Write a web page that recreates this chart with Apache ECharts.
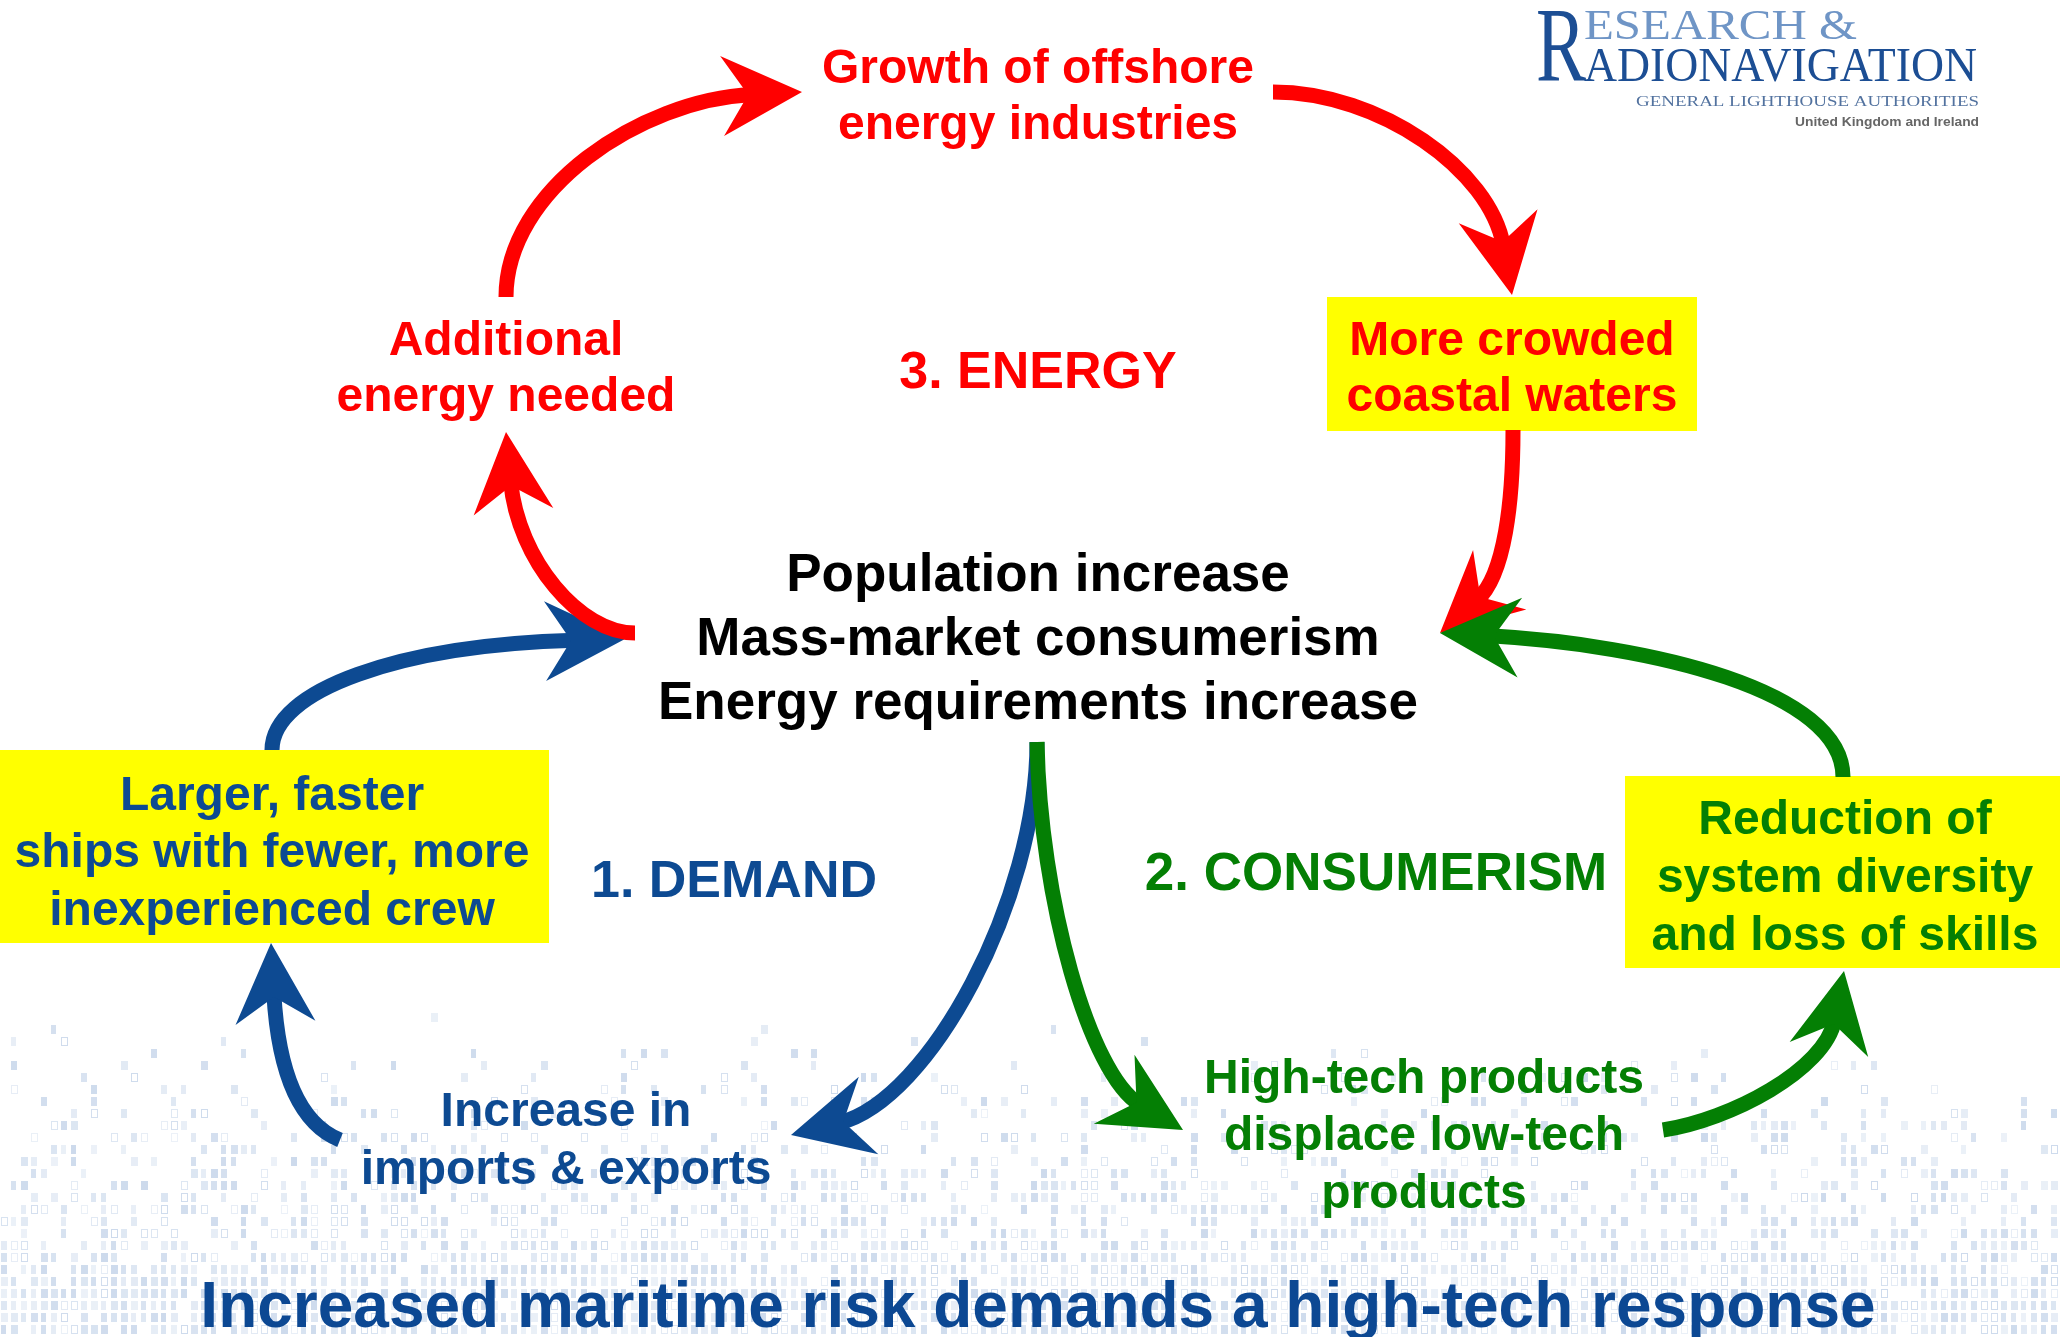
<!DOCTYPE html>
<html>
<head>
<meta charset="utf-8">
<title>Maritime risk cycle</title>
<script src="https://cdn.jsdelivr.net/npm/echarts@6/dist/echarts.min.js"></script>
<style>
    html, body { margin: 0; padding: 0; background: #fff; }
    #main { width: 2060px; height: 1337px; }
</style>
</head>
<body>
<div id="main"></div>
<script>
// 文字数据
var centreLines = ['Population increase', 'Mass-market consumerism', 'Energy requirements increase'];
var sectionNames = ['1. DEMAND', '2. CONSUMERISM', '3. ENERGY'];
var demandSteps = [['Increase in', 'imports & exports'], ['Larger, faster', 'ships with fewer, more', 'inexperienced crew']];
var consumerSteps = [['High-tech products', 'displace low-tech', 'products'], ['Reduction of', 'system diversity', 'and loss of skills']];
var energySteps = [['Additional', 'energy needed'], ['Growth of offshore', 'energy industries'], ['More crowded', 'coastal waters']];
var headline = 'Increased maritime risk demands a high-tech response';
var logoLines = ['R', 'ESEARCH &', 'R', 'ADIONAVIGATION', 'GENERAL LIGHTHOUSE AUTHORITIES', 'United Kingdom and Ireland'];

var RED = '#ff0000', BLUE = '#0d4a92', GREEN = '#047f04', YELLOW = '#ffff00';
var SANS = '"Liberation Sans", Arial, sans-serif';
var SERIF = '"Liberation Serif", "DejaVu Serif", serif';

var myChart = echarts.init(document.getElementById('main'));

// 背景的点阵图案
function makePattern(w, h) {
    var c = document.createElement('canvas');
    c.width = w; c.height = h;
    var ctx = c.getContext('2d');
    var cw = 10, ch = 12;
    var rows = Math.ceil(h / ch), cols = Math.ceil(w / cw);
    for (var r = 0; r < rows; r++) {
        var t = Math.min(1, (r * ch) / 290);
        var p = Math.pow(t, 1.6) * 0.92;
        for (var k = 0; k < cols; k++) {
            var hv = (Math.imul(k + 17, 73856093) ^ Math.imul(r + 5, 19349663)) >>> 0;
            hv = (Math.imul(hv ^ (hv >>> 13), 1274126177)) >>> 0;
            var u = (hv % 1000) / 1000;
            if (u < p) {
                var a = 0.18 + ((hv >>> 10) % 100) / 330;
                var col = 'rgba(150,178,216,' + a.toFixed(2) + ')';
                ctx.fillStyle = col;
                ctx.strokeStyle = col;
                if ((hv >>> 4) % 4 === 0) {
                    ctx.lineWidth = 1;
                    ctx.strokeRect(k * cw + 1.5, r * ch + 1.5, cw - 4, ch - 4);
                } else {
                    ctx.fillRect(k * cw + 1, r * ch + 1, cw - 3 - ((hv >>> 6) % 3), ch - 3);
                }
            }
        }
    }
    return c;
}

function arrow(p0, p1, p2, tip, color, z) {
    var dx = tip[0] - p2[0], dy = tip[1] - p2[1];
    var len = Math.sqrt(dx * dx + dy * dy);
    dx /= len; dy /= len;
    var nx = -dy, ny = dx;
    var notch = [tip[0] - dx * 54, tip[1] - dy * 54];
    var end = [tip[0] - dx * 50, tip[1] - dy * 50];
    var b1 = [tip[0] - dx * 80 + nx * 40, tip[1] - dy * 80 + ny * 40];
    var b2 = [tip[0] - dx * 80 - nx * 40, tip[1] - dy * 80 - ny * 40];
    return [{
        type: 'bezierCurve', z: z,
        shape: { x1: p0[0], y1: p0[1], cpx1: p1[0], cpy1: p1[1], cpx2: p2[0], cpy2: p2[1], x2: end[0], y2: end[1] },
        style: { stroke: color, lineWidth: 15, fill: null }
    }, {
        type: 'polygon', z: z,
        shape: { points: [tip, b1, notch, b2] },
        style: { fill: color }
    }];
}

function label(lines, x, y, color, size, lh, z) {
    return {
        type: 'text', x: x, y: y + 4, z: z || 20,
        style: {
            text: lines.join('\n'), fill: color,
            font: 'bold ' + size + 'px ' + SANS,
            align: 'center', verticalAlign: 'middle', lineHeight: lh
        }
    };
}

var measureCtx = document.createElement('canvas').getContext('2d');
function fitText(text, x, y, width, font, color) {
    measureCtx.font = font;
    var w = measureCtx.measureText(text).width;
    return {
        type: 'text', x: x, y: y, z: 20, scaleX: width / w,
        style: { text: text, font: font, fill: color, align: 'left', verticalAlign: 'middle' }
    };
}

var els = [];
els.push({ type: 'image', x: 0, y: 1000, z: 1, style: { image: makePattern(2060, 337), x: 0, y: 0, width: 2060, height: 337 } });

// 黄色方框
els.push({ type: 'rect', z: 5, shape: { x: 0, y: 750, width: 549, height: 193 }, style: { fill: YELLOW } });
els.push({ type: 'rect', z: 5, shape: { x: 1625, y: 776, width: 435, height: 192 }, style: { fill: YELLOW } });
els.push({ type: 'rect', z: 5, shape: { x: 1327, y: 297, width: 370, height: 134 }, style: { fill: YELLOW } });

// 箭头: 蓝 < 红 < 绿
els = els.concat(arrow([272, 750], [272, 690], [400, 645], [625, 639], BLUE, 10));
els = els.concat(arrow([1037, 742], [1037, 900], [930, 1100], [791, 1135], BLUE, 10));
els = els.concat(arrow([340, 1140], [290, 1120], [277, 1050], [271, 943], BLUE, 10));

els = els.concat(arrow([635, 633], [580, 633], [518, 560], [506, 432], RED, 11));
els = els.concat(arrow([506, 297], [506, 190], [640, 100], [802, 92], RED, 11));
els = els.concat(arrow([1273, 92], [1380, 92], [1490, 170], [1512, 295], RED, 11));
els = els.concat(arrow([1513, 430], [1513, 500], [1505, 575], [1440, 633], RED, 11));

els = els.concat(arrow([1037, 742], [1040, 900], [1090, 1075], [1183, 1130], GREEN, 12));
els = els.concat(arrow([1663, 1130], [1730, 1120], [1825, 1070], [1844, 971], GREEN, 12));
els = els.concat(arrow([1843, 777], [1843, 690], [1650, 645], [1440, 633], GREEN, 12));

// 文字
els.push(label(centreLines, 1038, 636, '#000', 53, 64));
els.push(label([sectionNames[0]], 734, 879, BLUE, 52, 60));
els.push(label([sectionNames[1]], 1376, 871, GREEN, 53, 60));
els.push(label([sectionNames[2]], 1038, 370, RED, 52, 60));
els.push(label(demandSteps[0], 566, 1138, BLUE, 48, 58));
els.push(label(demandSteps[1], 272, 850, BLUE, 48, 57.5));
els.push(label(consumerSteps[0], 1424, 1133, GREEN, 48, 57.5));
els.push(label(consumerSteps[1], 1845, 875, GREEN, 48, 58));
els.push(label(energySteps[0], 506, 366, RED, 48, 56));
els.push(label(energySteps[1], 1038, 94, RED, 48, 56));
els.push(label(energySteps[2], 1512, 366, RED, 48, 56));
els.push(label([headline], 1038, 1305, '#0c4893', 64, 70));

// 标志
els.push(fitText(logoLines[0], 1536, 52, 50, '106px ' + SERIF, '#1c4e94'));
els.push(fitText(logoLines[1], 1584, 28, 273, '42px ' + SERIF, '#6f95c6'));
els.push(fitText(logoLines[3], 1584, 68, 393, '48px ' + SERIF, '#1c4e94'));
els.push(fitText(logoLines[4], 1636, 102, 343, '15px ' + SERIF, '#52729f'));
els.push(fitText(logoLines[5], 1795, 123, 184, 'bold 12px ' + SANS, '#666'));

option = {
    backgroundColor: '#fff',
    animation: false,
    graphic: { elements: els }
};
myChart.setOption(option);
</script>
</body>
</html>
